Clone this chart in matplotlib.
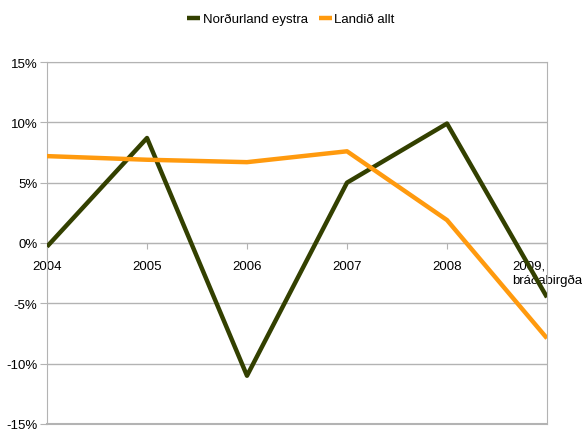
import matplotlib.pyplot as plt
from matplotlib.ticker import FuncFormatter

plt.rcParams['font.family'] = ['Liberation Sans', 'DejaVu Sans']

# data
years = ["2004", "2005", "2006", "2007", "2008", "2009,\nbráðabirgða"]
nordurland = [-0.3, 8.7, -11.0, 5.0, 9.9, -4.5]
landid = [7.2, 6.9, 6.7, 7.6, 1.9, -7.9]

grid_col = "#b3b3b3"

fig = plt.figure(figsize=(5.82, 4.35), dpi=100)
ax = fig.add_axes([47/582, 10/435, 500/582, 362/435])

x = list(range(len(years)))
ax.plot(x, nordurland, color="#334000", lw=3.2, label="Norðurland eystra", solid_capstyle="butt", zorder=3)
ax.plot(x, landid, color="#ff9a0e", lw=3.2, label="Landið allt", solid_capstyle="butt", zorder=3)

ax.set_xlim(0, 5)
ax.set_ylim(-15, 15)
ax.set_yticks(range(-15, 16, 5))
ax.yaxis.set_major_formatter(FuncFormatter(lambda v, p: "%d%%" % v))
ax.grid(True, axis='y', color=grid_col, lw=1)
ax.set_axisbelow(True)

# x axis crosses at zero
ax.spines['bottom'].set_position(('data', 0))
for s in ax.spines.values():
    s.set_color(grid_col)
ax.axhline(-15, color=grid_col, lw=1.5, clip_on=False)

ax.set_xticks(x)
ax.set_xticklabels(years, fontsize=9.5, multialignment='left')
ax.tick_params(axis='x', direction='out', length=4, color=grid_col, pad=8)
ax.tick_params(axis='y', direction='out', length=5, color=grid_col, labelsize=9.5, pad=2)

fig.legend(loc='upper center', bbox_to_anchor=(0.5, 0.995), ncol=2, frameon=False,
           fontsize=9.5, handlelength=1.0, handletextpad=0.2, columnspacing=0.8)

fig.savefig("out.png", dpi=100)
